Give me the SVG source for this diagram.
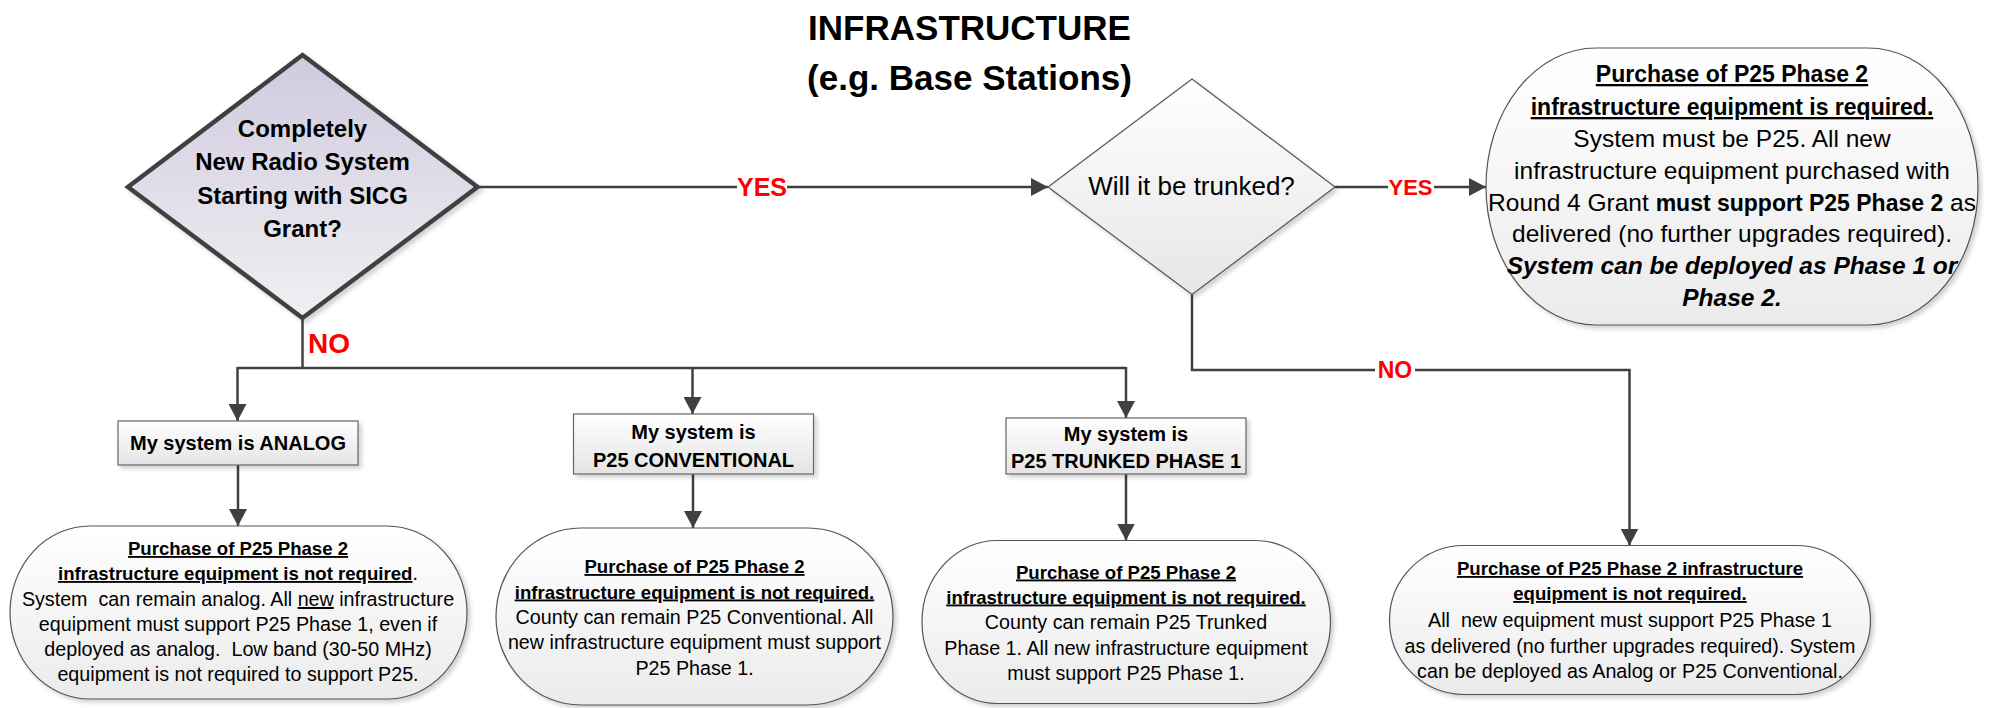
<svg xmlns="http://www.w3.org/2000/svg" width="1989" height="708" viewBox="0 0 1989 708">
<style>
text{font-family:"Liberation Sans",Arial,sans-serif;fill:#000}
.t{font-weight:bold;font-size:35px;text-anchor:middle}
.q1{font-weight:bold;font-size:24px;text-anchor:middle}
.q2{font-size:26px;text-anchor:middle}
.lbl{font-weight:bold;fill:#ff0000}
.bx{font-weight:bold;font-size:20px;text-anchor:middle}
.hb{font-weight:bold;font-size:23px;text-anchor:middle;text-decoration:underline}
.hr{font-size:24.5px;text-anchor:middle}
.lb{font-weight:bold;font-size:18.6px;text-anchor:middle;text-decoration:underline}
.lr{font-size:19.7px;text-anchor:middle}
.b{font-weight:bold}
.bi{font-weight:bold;font-style:italic}
.u{text-decoration:underline}
.conn{fill:none;stroke:#404040;stroke-width:2.5}
.rbox{fill:url(#gBox);stroke:#555;stroke-width:1.2;filter:url(#sh)}
.sbox{fill:url(#gRect);stroke:#666;stroke-width:1.2;filter:url(#sh)}
</style>
<defs>
<linearGradient id="gD1" x1="0" y1="0" x2="0" y2="1"><stop offset="0" stop-color="#d0cadf"/><stop offset="1" stop-color="#f0f0f2"/></linearGradient>
<linearGradient id="gD2" x1="0" y1="0" x2="0" y2="1"><stop offset="0" stop-color="#ffffff"/><stop offset="1" stop-color="#e6e6e6"/></linearGradient>
<linearGradient id="gBox" x1="0" y1="0" x2="0" y2="1"><stop offset="0" stop-color="#ffffff"/><stop offset="1" stop-color="#ebebeb"/></linearGradient>
<linearGradient id="gRect" x1="0" y1="0" x2="0" y2="1"><stop offset="0" stop-color="#ffffff"/><stop offset="1" stop-color="#e4e4e4"/></linearGradient>
<filter id="sh" x="-5%" y="-5%" width="115%" height="120%"><feDropShadow dx="3" dy="3" stdDeviation="2" flood-color="#000" flood-opacity="0.18"/></filter>
<marker id="ah" markerUnits="userSpaceOnUse" markerWidth="18" markerHeight="18" refX="17" refY="9" orient="auto"><path d="M0,0 L17,9 L0,18 z" fill="#404040"/></marker>
</defs>

<g id="title">
<text class="t" x="969.5" y="40">INFRASTRUCTURE</text>
<text class="t" x="969.5" y="90">(e.g. Base Stations)</text>
</g>

<g id="connectors">
<path class="conn" d="M477.5,187 H1048" marker-end="url(#ah)"/>
<path class="conn" d="M1335,187 H1486" marker-end="url(#ah)"/>
<path class="conn" d="M302.5,318 V368"/>
<path class="conn" d="M237.5,368 H1126"/>
<path class="conn" d="M237.5,367 V421" marker-end="url(#ah)"/>
<path class="conn" d="M692.5,367 V414" marker-end="url(#ah)"/>
<path class="conn" d="M1126,367 V418" marker-end="url(#ah)"/>
<path class="conn" d="M1192,294.5 V370 H1629.5 V545.5" marker-end="url(#ah)"/>
<path class="conn" d="M238,465 V526" marker-end="url(#ah)"/>
<path class="conn" d="M693,474 V528" marker-end="url(#ah)"/>
<path class="conn" d="M1126,474 V540.5" marker-end="url(#ah)"/>
<rect x="737" y="176" width="50" height="22" fill="#fff"/>
<text class="lbl" x="762" y="196" font-size="25" text-anchor="middle">YES</text>
<rect x="1388" y="176" width="46" height="22" fill="#fff"/>
<text class="lbl" x="1410.5" y="195" font-size="22" text-anchor="middle">YES</text>
<text class="lbl" x="308" y="353" font-size="28">NO</text>
<rect x="1375" y="359" width="40" height="22" fill="#fff"/>
<text class="lbl" x="1395" y="378" font-size="23" text-anchor="middle">NO</text>
</g>

<g id="q-new-system">
<polygon points="302.5,55 477.5,187 302.5,318 128,187" fill="url(#gD1)" stroke="#404040" stroke-width="4.5" filter="url(#sh)"/>
<text class="q1" x="302.5" y="137">Completely</text>
<text class="q1" x="302.5" y="170">New Radio System</text>
<text class="q1" x="302.5" y="203.5">Starting with SICG</text>
<text class="q1" x="302.5" y="237">Grant?</text>
</g>

<g id="q-trunked">
<polygon points="1192,79 1335,187 1192,294.5 1048,187" fill="url(#gD2)" stroke="#555" stroke-width="1.2" filter="url(#sh)"/>
<text class="q2" x="1191.5" y="195">Will it be trunked?</text>
</g>

<g id="r-phase2-required">
<rect class="rbox" x="1486" y="48" width="492" height="277" rx="110" ry="138.5"/>
<text class="hb" x="1732" y="82">Purchase of P25 Phase 2</text>
<text class="hb" x="1732" y="115">infrastructure equipment is required.</text>
<text class="hr" x="1732" y="147">System must be P25. All new</text>
<text class="hr" x="1732" y="178.5">infrastructure equipment purchased with</text>
<text class="hr" x="1732" y="210.5">Round 4 Grant <tspan class="b" font-size="23">must support P25 Phase 2</tspan> as</text>
<text class="hr" x="1732" y="242">delivered (no further upgrades required).</text>
<text class="hr bi" x="1732" y="274" font-size="22">System can be deployed as Phase 1 or</text>
<text class="hr bi" x="1732" y="305.5" font-size="22">Phase 2.</text>
</g>

<g id="s-analog">
<rect class="sbox" x="118" y="421" width="240" height="44"/>
<text class="bx" x="238" y="450">My system is ANALOG</text>
</g>

<g id="s-conventional">
<rect class="sbox" x="573.5" y="414" width="240" height="60"/>
<text class="bx" x="693.5" y="439">My system is</text>
<text class="bx" x="693.5" y="467">P25 CONVENTIONAL</text>
</g>

<g id="s-trunked">
<rect class="sbox" x="1006" y="418" width="240" height="56"/>
<text class="bx" x="1126" y="440.5">My system is</text>
<text class="bx" x="1126" y="468">P25 TRUNKED PHASE 1</text>
</g>

<g id="r-analog">
<rect class="rbox" x="10" y="526" width="457" height="173" rx="80" ry="86.5"/>
<text class="lb" x="238" y="555">Purchase of P25 Phase 2</text>
<text class="lr" x="238" y="580"><tspan class="b u" font-size="18.6">infrastructure equipment is not required</tspan>.</text>
<text class="lr" x="238" y="606" xml:space="preserve">System  can remain analog. All <tspan class="u">new</tspan> infrastructure</text>
<text class="lr" x="238" y="631">equipment must support P25 Phase 1, even if</text>
<text class="lr" x="238" y="656" xml:space="preserve">deployed as analog.  Low band (30-50 MHz)</text>
<text class="lr" x="238" y="681">equipment is not required to support P25.</text>
</g>

<g id="r-conventional">
<rect class="rbox" x="496" y="528" width="397" height="177" rx="85" ry="88.5"/>
<text class="lb" x="694.5" y="573"> Purchase of P25 Phase 2</text>
<text class="lb" x="694.5" y="598.5">infrastructure equipment is not required.</text>
<text class="lr" x="694.5" y="623.5">County can remain P25 Conventional. All</text>
<text class="lr" x="694.5" y="649">new infrastructure equipment must support</text>
<text class="lr" x="694.5" y="675">P25 Phase 1.</text>
</g>

<g id="r-trunked">
<rect class="rbox" x="922" y="540.5" width="408.5" height="163" rx="75" ry="81.5"/>
<text class="lb" x="1126" y="578.5">Purchase of P25 Phase 2</text>
<text class="lb" x="1126" y="603.5">infrastructure equipment is not required.</text>
<text class="lr" x="1126" y="629">County can remain P25 Trunked</text>
<text class="lr" x="1126" y="655">Phase 1. All new infrastructure equipment</text>
<text class="lr" x="1126" y="680">must support P25 Phase 1.</text>
</g>

<g id="r-not-trunked">
<rect class="rbox" x="1389.5" y="545.5" width="481" height="149" rx="75" ry="74.5"/>
<text class="lb" x="1630" y="575">Purchase of P25 Phase 2 infrastructure</text>
<text class="lb" x="1630" y="600">equipment is not required.</text>
<text class="lr" x="1630" y="626.5" xml:space="preserve">All  new equipment must support P25 Phase 1</text>
<text class="lr" x="1630" y="652.5">as delivered (no further upgrades required). System</text>
<text class="lr" x="1630" y="677.5">can be deployed as Analog or P25 Conventional.</text>
</g>
</svg>
